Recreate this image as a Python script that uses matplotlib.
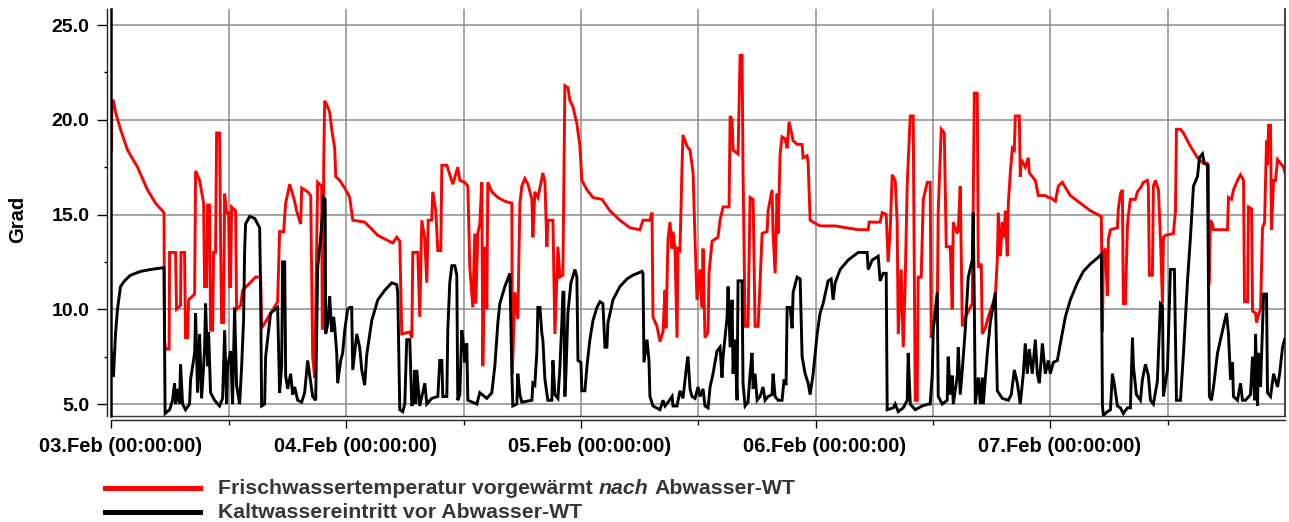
import matplotlib
matplotlib.use("Agg")
import matplotlib.pyplot as plt
from matplotlib.lines import Line2D
from matplotlib.ticker import FixedLocator
from matplotlib.transforms import ScaledTranslation

# Temperature log, hours since 03.Feb 00:00 -> degrees C
frischwasser = [
    (0.0, 18.4), (0.05, 21.0), (0.2, 21.0), (0.41, 20.4), (0.92, 19.5), (1.64, 18.4), (2.66, 17.5),
    (3.68, 16.3), (4.5, 15.6), (5.37, 15.1), (5.42, 8.4), (5.53, 7.9), (5.89, 7.9), (5.94, 13.0),
    (6.55, 13.0), (6.65, 10.0), (7.06, 10.2), (7.11, 13.0), (7.47, 13.0), (7.57, 8.5), (7.78, 8.5),
    (7.88, 10.5), (8.5, 10.8), (8.6, 17.3), (9.01, 16.8), (9.42, 15.6), (9.52, 11.2), (9.72, 11.2),
    (9.83, 15.5), (10.03, 15.5), (10.13, 8.9), (10.34, 8.9), (10.44, 13.0), (10.64, 13.0),
    (10.75, 19.3), (11.05, 19.3), (11.16, 13.5), (11.26, 9.3), (11.46, 9.3), (11.57, 16.1),
    (11.77, 15.1), (11.97, 15.1), (12.08, 11.2), (12.18, 11.2), (12.28, 15.4), (12.69, 15.2),
    (12.79, 10.0), (13.2, 10.2), (13.41, 11.0), (14.74, 11.7), (15.25, 11.7), (15.35, 9.0),
    (16.99, 10.4), (17.19, 14.1), (17.6, 14.1), (17.81, 15.6), (18.22, 16.6), (18.63, 15.9),
    (18.93, 15.2), (19.34, 14.5), (19.45, 16.4), (20.06, 16.2), (20.37, 16.0), (20.57, 7.5),
    (20.78, 6.4), (21.08, 16.7), (21.49, 16.5), (21.55, 9.0), (21.65, 9.0), (21.7, 17.7),
    (21.8, 21.0), (22.0, 20.8), (22.31, 20.4), (22.52, 19.5), (22.82, 18.5), (22.93, 17.0),
    (23.34, 16.8), (23.85, 16.4), (24.36, 15.9), (24.67, 14.7), (25.89, 14.6), (27.23, 13.9),
    (28.76, 13.5), (29.17, 13.8), (29.48, 13.6), (29.68, 8.7), (30.5, 8.8), (30.71, 8.5),
    (30.81, 13.0), (31.32, 13.0), (31.52, 9.6), (31.73, 14.7), (32.04, 13.7), (32.24, 11.4),
    (32.39, 14.7), (32.75, 14.7), (32.85, 16.2), (33.16, 15.2), (33.37, 13.1), (33.67, 13.1),
    (33.78, 17.6), (34.29, 17.6), (34.9, 16.6), (35.41, 17.5), (35.62, 16.8), (36.13, 16.7),
    (36.44, 16.5), (36.64, 12.2), (36.95, 10.1), (37.15, 14.0), (37.26, 10.3), (37.46, 14.0),
    (37.66, 14.5), (37.87, 16.7), (37.97, 7.0), (38.18, 13.3), (38.38, 10.0), (38.48, 16.7),
    (38.89, 16.2), (39.51, 15.9), (40.22, 15.7), (40.94, 15.6), (40.99, 6.6), (41.25, 10.9),
    (41.55, 9.5), (41.76, 15.6), (41.96, 16.5), (42.27, 16.9), (42.58, 16.6), (42.99, 15.8),
    (43.09, 13.8), (43.29, 16.2), (43.6, 15.9), (43.81, 16.4), (44.11, 17.2), (44.32, 16.7),
    (44.52, 13.3), (44.62, 14.7), (45.14, 14.7), (45.34, 8.7), (45.65, 13.3), (45.85, 11.7),
    (46.16, 11.8), (46.36, 21.8), (46.67, 21.7), (46.88, 21.0), (47.18, 20.7), (47.59, 19.8),
    (47.9, 18.6), (48.1, 16.8), (48.62, 16.3), (49.23, 15.9), (50.15, 15.8), (50.97, 15.2),
    (51.99, 14.7), (53.02, 14.3), (54.04, 14.2), (54.35, 14.7), (55.06, 14.7), (55.27, 15.1),
    (55.37, 9.6), (55.78, 9.1), (56.09, 8.3), (56.39, 8.8), (56.6, 11.0), (56.7, 9.0),
    (56.91, 13.7), (57.11, 14.6), (57.32, 13.2), (57.42, 14.1), (57.62, 13.2), (57.83, 8.5),
    (57.93, 13.2), (58.13, 13.1), (58.34, 17.5), (58.44, 19.2), (58.85, 18.6), (59.16, 18.4),
    (59.47, 17.2), (59.67, 13.7), (59.87, 10.5), (60.18, 12.1), (60.39, 10.1), (60.49, 13.2),
    (60.69, 8.5), (61.0, 8.8), (61.1, 11.9), (61.41, 13.6), (62.02, 13.8), (62.23, 14.7),
    (62.54, 15.4), (63.15, 15.4), (63.26, 20.2), (63.46, 20.0), (63.56, 18.4), (64.07, 18.2),
    (64.28, 23.4), (64.48, 23.4), (64.58, 17.3), (64.79, 9.1), (65.09, 9.1), (65.3, 15.9),
    (65.61, 15.8), (65.81, 9.1), (66.12, 9.1), (66.32, 11.4), (66.53, 14.0), (67.04, 14.1),
    (67.14, 15.2), (67.55, 16.3), (67.65, 14.0), (67.86, 11.9), (68.06, 16.1), (68.17, 14.0),
    (68.37, 18.2), (68.57, 19.1), (68.88, 19.0), (69.09, 18.5), (69.29, 19.9), (69.7, 18.9),
    (70.11, 18.7), (70.62, 18.7), (70.72, 18.0), (71.13, 18.1), (71.24, 17.7), (71.44, 14.7),
    (71.75, 14.6), (72.46, 14.4), (74.0, 14.4), (76.35, 14.2), (77.38, 14.2), (77.48, 14.6),
    (78.6, 14.6), (78.81, 15.1), (79.22, 15.0), (79.42, 12.5), (79.63, 14.2), (79.83, 17.1),
    (80.14, 16.8), (80.34, 14.6), (80.45, 8.7), (80.75, 12.1), (80.96, 8.0), (81.16, 11.4),
    (81.37, 16.6), (81.68, 20.2), (81.98, 20.2), (82.19, 5.2), (82.39, 5.2), (82.49, 11.7),
    (82.8, 11.7), (83.01, 15.8), (83.42, 16.7), (83.72, 16.7), (83.82, 8.5), (84.03, 9.3),
    (84.44, 9.7), (84.54, 15.2), (84.85, 19.5), (85.16, 19.3), (85.36, 13.3), (85.77, 13.3),
    (85.97, 10.0), (86.08, 14.6), (86.49, 14.0), (86.59, 14.2), (86.79, 16.5), (87.0, 9.1),
    (87.41, 9.7), (87.82, 10.1), (88.02, 10.3), (88.23, 21.4), (88.53, 21.4), (88.64, 12.2),
    (88.94, 12.4), (89.04, 8.7), (89.35, 9.0), (89.66, 9.6), (90.38, 10.7), (90.58, 12.6),
    (90.68, 15.1), (90.89, 12.8), (91.09, 14.6), (91.3, 13.8), (91.4, 15.2), (91.6, 12.8),
    (91.71, 15.6), (91.91, 17.2), (92.12, 18.5), (92.32, 18.4), (92.42, 20.2), (92.83, 20.2),
    (92.93, 17.0), (93.03, 17.9), (93.44, 17.5), (93.75, 18.0), (93.85, 17.2), (94.47, 16.8),
    (94.78, 16.0), (95.49, 16.0), (95.8, 15.9), (96.0, 15.9), (96.52, 15.7), (96.82, 16.5),
    (97.23, 16.7), (98.05, 16.0), (99.07, 15.6), (100.1, 15.2), (101.22, 14.9), (101.33, 8.8),
    (101.43, 13.0), (101.63, 13.2), (101.84, 10.7), (101.94, 13.7), (102.15, 14.2),
    (102.86, 14.3), (102.96, 15.3), (103.17, 16.1), (103.37, 16.3), (103.47, 10.3),
    (103.68, 10.3), (103.88, 14.3), (103.99, 15.0), (104.19, 15.8), (104.7, 15.8),
    (104.91, 16.2), (105.22, 16.4), (105.52, 16.7), (105.93, 16.8), (106.03, 16.5),
    (106.13, 11.8), (106.44, 11.8), (106.54, 16.5), (106.75, 16.8), (107.06, 16.3),
    (107.26, 13.8), (107.47, 10.3), (107.57, 13.8), (107.77, 13.9), (108.59, 14.0),
    (108.8, 15.2), (108.9, 19.5), (109.31, 19.5), (109.62, 19.3), (110.33, 18.6),
    (111.05, 18.0), (111.66, 17.7), (112.07, 17.7), (112.17, 17.6), (112.22, 11.3),
    (112.38, 14.7), (112.58, 14.5), (112.69, 14.2), (114.12, 14.2), (114.22, 15.9),
    (114.53, 15.8), (114.73, 16.3), (115.14, 16.8), (115.45, 17.1), (115.76, 16.8),
    (115.86, 10.4), (116.17, 10.4), (116.27, 15.4), (116.58, 15.3), (116.68, 9.9),
    (116.99, 9.8), (117.09, 9.3), (117.29, 9.7), (117.5, 10.0), (117.7, 14.3), (117.91, 14.6),
    (118.11, 18.9), (118.21, 17.6), (118.32, 19.7), (118.52, 19.7), (118.62, 14.2),
    (118.83, 16.8), (119.03, 16.8), (119.24, 17.9), (119.54, 17.7), (119.85, 17.5),
    (120.0, 17.2),
]

kaltwasser = [
    (0.0, 7.7), (0.05, 6.5), (0.2, 6.5), (0.31, 7.7), (0.41, 8.7), (0.61, 10.0), (0.92, 11.2),
    (1.33, 11.5), (1.94, 11.8), (2.97, 12.0), (3.99, 12.1), (5.37, 12.2), (5.42, 8.3), (5.48, 4.5),
    (5.94, 4.7), (6.24, 5.2), (6.45, 6.1), (6.55, 5.0), (6.76, 5.8), (6.96, 5.0), (7.06, 7.1),
    (7.27, 5.0), (7.57, 4.7), (7.98, 5.0), (8.09, 6.3), (8.5, 7.7), (8.6, 9.8), (8.8, 5.6),
    (9.01, 8.7), (9.21, 5.3), (9.42, 7.0), (9.52, 8.0), (9.62, 10.3), (9.83, 7.0), (9.93, 8.8),
    (10.13, 5.6), (10.54, 5.2), (11.05, 4.9), (11.36, 5.3), (11.57, 8.9), (11.77, 5.0),
    (11.87, 7.0), (12.18, 7.8), (12.38, 5.0), (12.59, 10.1), (12.79, 6.0), (13.1, 5.0),
    (13.31, 7.0), (13.51, 9.5), (13.61, 13.0), (13.71, 14.5), (14.12, 14.9), (14.64, 14.8),
    (15.15, 14.3), (15.25, 11.0), (15.35, 4.9), (15.66, 5.0), (15.76, 7.5), (16.27, 9.8),
    (16.99, 10.1), (17.19, 5.6), (17.4, 7.0), (17.5, 12.5), (17.71, 12.5), (17.81, 6.5),
    (18.01, 5.8), (18.32, 6.6), (18.53, 5.5), (18.73, 5.9), (19.04, 5.2), (19.45, 5.1),
    (19.75, 5.6), (20.06, 7.3), (20.27, 6.5), (20.57, 5.4), (20.88, 5.2), (21.08, 12.2),
    (21.39, 13.8), (21.7, 15.9), (21.85, 15.8), (21.9, 8.7), (22.11, 9.2), (22.31, 10.7),
    (22.52, 8.8), (22.72, 9.6), (22.82, 9.1), (23.03, 7.7), (23.13, 6.1), (23.44, 7.3),
    (23.64, 7.7), (23.85, 8.9), (24.15, 10.0), (24.36, 10.1), (24.56, 10.1), (24.67, 6.8),
    (25.08, 8.7), (25.38, 8.0), (25.59, 6.8), (25.89, 6.0), (26.1, 7.6), (26.61, 9.4),
    (27.23, 10.5), (27.94, 11.0), (28.66, 11.4), (29.17, 11.3), (29.27, 10.9), (29.48, 4.7),
    (29.78, 4.6), (29.99, 5.0), (30.19, 8.4), (30.5, 8.4), (30.71, 4.9), (30.91, 5.3),
    (31.01, 6.8), (31.11, 5.0), (31.22, 6.8), (31.52, 4.9), (32.04, 6.1), (32.24, 5.0),
    (32.75, 5.3), (33.37, 5.4), (33.57, 7.3), (33.78, 7.3), (33.88, 5.4), (34.29, 5.4),
    (34.39, 8.9), (34.59, 11.4), (34.8, 12.3), (35.11, 12.3), (35.31, 11.8), (35.41, 5.2),
    (35.62, 5.5), (35.82, 8.9), (36.03, 8.0), (36.13, 7.2), (36.33, 8.2), (36.44, 5.2),
    (37.36, 5.0), (37.66, 5.6), (38.38, 5.3), (38.89, 5.6), (39.2, 7.0), (39.51, 9.3),
    (39.71, 10.3), (40.22, 11.2), (40.74, 11.9), (40.94, 6.6), (41.04, 4.9), (41.45, 5.0),
    (41.55, 6.6), (41.76, 5.5), (41.96, 5.1), (42.99, 5.2), (43.09, 6.1), (43.29, 6.0),
    (43.5, 7.8), (43.6, 10.1), (43.81, 10.1), (44.01, 8.7), (44.11, 8.4), (44.32, 6.3),
    (44.62, 5.2), (45.03, 5.2), (45.14, 7.3), (45.34, 5.5), (45.65, 5.3), (45.85, 6.9),
    (46.06, 9.4), (46.16, 10.9), (46.26, 10.9), (46.36, 5.4), (46.47, 6.6), (46.67, 9.8),
    (46.98, 11.4), (47.39, 12.1), (47.59, 11.7), (47.7, 7.3), (48.0, 7.2), (48.1, 5.7),
    (48.41, 5.7), (48.62, 7.0), (48.92, 8.4), (49.23, 9.4), (49.64, 10.1), (49.95, 10.4),
    (50.25, 10.3), (50.46, 8.0), (50.66, 8.0), (50.77, 9.3), (51.28, 10.5), (51.99, 11.2),
    (52.71, 11.6), (53.32, 11.8), (54.25, 12.0), (54.35, 11.9), (54.45, 7.2), (54.76, 8.4),
    (54.96, 7.3), (55.06, 5.4), (55.37, 4.9), (56.09, 4.7), (56.39, 5.2), (56.6, 4.9),
    (56.91, 5.1), (57.32, 5.4), (57.42, 4.9), (57.83, 4.9), (58.13, 5.7), (58.44, 5.3),
    (58.85, 7.2), (58.95, 7.5), (59.16, 5.8), (59.36, 5.4), (59.67, 5.3), (59.98, 5.9),
    (60.18, 5.4), (60.49, 5.8), (60.69, 4.9), (61.0, 4.8), (61.21, 5.9), (61.51, 6.6),
    (61.92, 7.8), (62.23, 8.0), (62.43, 6.4), (62.54, 7.5), (62.95, 9.6), (63.05, 11.2),
    (63.26, 8.0), (63.46, 10.5), (63.56, 6.6), (63.76, 8.4), (63.97, 5.2), (64.07, 11.5),
    (64.48, 11.5), (64.58, 6.1), (64.79, 4.9), (65.09, 5.1), (65.3, 6.6), (65.5, 7.7),
    (65.61, 5.8), (65.81, 6.6), (66.02, 5.2), (66.32, 5.4), (66.63, 5.9), (66.83, 5.2),
    (67.14, 5.4), (67.55, 5.5), (67.65, 6.6), (67.86, 5.4), (68.17, 5.2), (68.57, 5.2),
    (68.78, 6.3), (68.98, 6.0), (69.09, 10.1), (69.4, 10.1), (69.6, 9.0), (69.7, 10.9),
    (70.11, 11.7), (70.42, 11.6), (70.62, 7.5), (70.93, 6.6), (71.24, 6.1), (71.44, 5.5),
    (71.75, 6.6), (72.16, 8.7), (72.46, 9.8), (72.77, 10.3), (73.28, 11.5), (73.59, 11.6),
    (73.79, 10.5), (74.0, 11.4), (74.51, 12.1), (75.33, 12.6), (76.35, 13.0), (77.27, 13.0),
    (77.38, 12.1), (77.79, 12.6), (78.4, 12.8), (78.6, 11.5), (78.91, 11.9), (79.22, 11.9),
    (79.32, 4.7), (79.94, 4.8), (80.14, 5.0), (80.45, 4.6), (80.96, 4.8), (81.37, 5.2),
    (81.47, 7.7), (81.68, 5.0), (82.19, 4.7), (82.9, 4.9), (83.52, 5.0), (83.72, 5.0),
    (83.93, 6.6), (84.03, 8.9), (84.44, 10.9), (84.54, 5.4), (84.95, 5.0), (85.46, 5.2),
    (85.56, 7.5), (85.77, 5.5), (85.97, 6.5), (86.08, 5.0), (86.49, 6.5), (86.59, 8.0),
    (86.79, 5.5), (87.0, 6.8), (87.3, 8.9), (87.61, 11.7), (88.02, 12.6), (88.12, 15.1),
    (88.23, 10.3), (88.33, 5.0), (88.64, 6.4), (88.84, 5.0), (89.04, 6.4), (89.15, 5.0),
    (89.56, 7.7), (89.86, 9.3), (90.38, 10.9), (90.58, 5.7), (91.09, 5.3), (91.71, 5.2),
    (92.01, 5.5), (92.32, 6.8), (92.63, 6.1), (92.93, 5.0), (93.24, 6.6), (93.44, 8.2),
    (93.65, 6.6), (93.85, 7.9), (94.16, 6.6), (94.47, 8.4), (94.67, 6.6), (94.88, 6.1),
    (95.19, 8.2), (95.49, 6.6), (95.8, 7.3), (96.0, 6.6), (96.31, 7.2), (96.72, 7.3),
    (97.03, 8.2), (97.54, 9.6), (98.05, 10.5), (98.77, 11.4), (99.38, 12.0), (100.1, 12.4),
    (100.81, 12.7), (101.22, 12.9), (101.33, 4.9), (101.43, 4.4), (101.84, 4.6), (102.15, 4.7),
    (102.35, 6.6), (102.56, 6.0), (102.86, 4.9), (103.17, 4.8), (103.47, 4.5), (103.88, 4.8),
    (104.19, 4.8), (104.4, 8.5), (104.5, 7.0), (104.8, 5.5), (105.22, 5.2), (105.42, 6.3),
    (105.73, 7.1), (106.03, 6.5), (106.24, 5.2), (106.54, 5.0), (106.95, 6.2), (107.06, 7.7),
    (107.26, 10.3), (107.47, 10.2), (107.57, 5.4), (107.98, 6.8), (108.28, 12.1),
    (108.69, 12.1), (108.9, 5.2), (109.31, 5.2), (109.62, 7.7), (110.03, 11.5), (110.33, 13.8),
    (110.64, 16.5), (111.05, 17.0), (111.25, 18.0), (111.56, 18.2), (111.76, 17.7),
    (112.07, 17.6), (112.17, 11.2), (112.27, 5.4), (112.48, 5.2), (112.69, 5.9), (113.1, 7.7),
    (113.4, 8.4), (113.71, 9.1), (114.02, 9.8), (114.22, 8.7), (114.43, 6.3), (114.63, 7.2),
    (114.73, 5.4), (115.14, 5.2), (115.45, 6.1), (115.65, 5.2), (115.96, 5.2), (116.47, 5.5),
    (116.68, 7.5), (116.89, 5.2), (116.99, 8.7), (117.19, 4.9), (117.29, 7.7), (117.5, 5.9),
    (117.81, 10.8), (118.11, 10.8), (118.21, 5.6), (118.52, 5.4), (118.83, 6.6), (119.24, 5.9),
    (119.45, 6.6), (119.75, 8.0), (119.96, 8.4),
]

y_ticks = [5, 10, 15, 20, 25]
y_labels = ["5.0", "10.0", "15.0", "20.0", "25.0"]
y_minor = [7.5, 12.5, 17.5, 22.5]
day_ticks = [0, 24, 48, 72, 96]
day_labels = ["03.Feb (00:00:00)", "04.Feb (00:00:00)", "05.Feb (00:00:00)",
              "06.Feb (00:00:00)", "07.Feb (00:00:00)"]
half_day_ticks = [12, 36, 60, 84, 108]
y_title = "Grad"
legend_red = ["Frischwassertemperatur vorgewärmt", "nach", "Abwasser-WT"]
legend_black = "Kaltwassereintritt vor Abwasser-WT"

plt.rcParams['font.family'] = ['Liberation Sans', 'DejaVu Sans']

W, H = 1289, 522
fig = plt.figure(figsize=(W / 100, H / 100), dpi=100)
x0, x1, y_top, y_bot = 111.5, 1285, 9.3, 416
ax = fig.add_axes([x0 / W, 1 - y_bot / H, (x1 - x0) / W, (y_bot - y_top) / H])
ymin, ymax = 4.37, 25.83

# spines first: repositioning them rebuilds the tick objects
ax.spines['top'].set_visible(False)
ax.spines['left'].set_position(('outward', 3.2))
ax.spines['bottom'].set_position(('outward', 3.0))
for s in ('left', 'bottom'):
    ax.spines[s].set_linewidth(1.0)
    ax.spines[s].set_color('#222222')
ax.spines['right'].set_linewidth(1.3)
ax.spines['right'].set_color('#333333')

ax.set_xlim(0, 120)
ax.set_ylim(ymin, ymax)

grid_c = '#8c8c8c'
ax.set_yticks(y_ticks)
ax.set_yticklabels(y_labels, fontsize=14, fontweight='bold')
ax.yaxis.set_minor_locator(FixedLocator(y_minor))
ax.set_xticks(day_ticks)
ax.set_xticklabels(day_labels, fontsize=14.5, fontweight='bold')
ax.xaxis.set_minor_locator(FixedLocator(half_day_ticks))
ax.grid(True, which='major', axis='both', color=grid_c, lw=1.1, zorder=0)
ax.grid(True, which='minor', axis='x', color=grid_c, lw=1.1, zorder=0)
ax.set_axisbelow(True)

ax.tick_params(axis='y', which='major', length=7.2, width=1.0, pad=5.5)
ax.tick_params(axis='y', which='minor', length=2.5, width=1.0)
ax.tick_params(axis='x', which='major', length=6, width=1.0, pad=6)
ax.tick_params(axis='x', which='minor', length=3.6, width=1.0)

# plot frame on the left and bottom edges
ax.axvline(0, color='black', lw=1.8, zorder=4, clip_on=False)
ax.axhline(ymin, color='#333333', lw=1.0, zorder=4, clip_on=False)

shift = ScaledTranslation(0.09, 0, fig.dpi_scale_trans)
for lbl in ax.get_xticklabels():
    lbl.set_transform(lbl.get_transform() + shift)

rh, rt = zip(*frischwasser)
kh, kt = zip(*kaltwasser)
ax.plot(rh, rt, color='#ff0000', lw=2.1, zorder=2, solid_joinstyle='miter')
ax.plot(kh, kt, color='#000000', lw=2.1, zorder=3, solid_joinstyle='miter')

fig.text(18 / W, 1 - 219 / H, y_title, rotation=90, ha='center', va='center',
         fontsize=14.5, fontweight='bold')

# legend below the plot
leg_c = '#363636'
fs = 15.3
for ypx, col in ((488, '#ff0000'), (512, '#000000')):
    fig.add_artist(Line2D([105 / W, 200 / W], [1 - ypx / H] * 2, color=col, lw=3.6))

renderer = fig.canvas.get_renderer()
space_px = 0.278 * fs * 100 / 72
xpx = 218
for part, style in zip(legend_red, ('normal', 'italic', 'normal')):
    t = fig.text(xpx / W, 1 - 488 / H, part, fontsize=fs, fontweight='bold', style=style,
                 color=leg_c, va='center', ha='left')
    bb = t.get_window_extent(renderer=renderer)
    xpx = bb.x1 + space_px
fig.text(218 / W, 1 - 512 / H, legend_black, fontsize=fs, fontweight='bold',
         color=leg_c, va='center', ha='left')

fig.savefig('out.png', dpi=100, facecolor='white')
